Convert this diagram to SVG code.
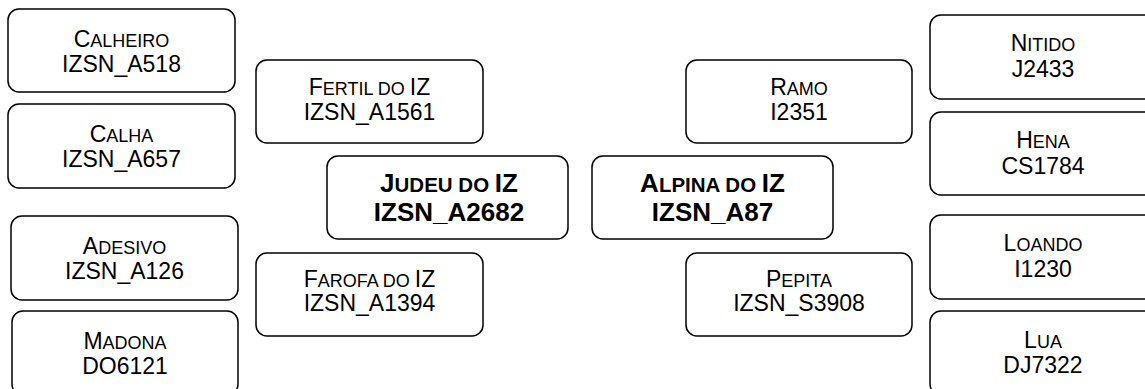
<svg xmlns="http://www.w3.org/2000/svg" width="1145" height="389" viewBox="0 0 1145 389">
<style>
.box{fill:#fff;stroke:#000;stroke-width:1.5}
text{font-family:"Liberation Sans",Arial,sans-serif;font-size:23px;fill:#000;text-anchor:middle}
.sc{font-size:18px}
.b{font-weight:bold;font-size:26px}
.b .sc{font-size:20.5px}
</style>
<rect width="1145" height="389" fill="#fff"/>
<g id="connectors"></g>
<g id="calheiro"><rect class="box" x="8" y="9" width="227" height="83" rx="11"/><text x="121.5" y="46.5">C<tspan class="sc">ALHEIRO</tspan></text><text x="121.5" y="71.5">IZSN_A518</text></g>
<g id="calha"><rect class="box" x="8" y="104" width="227" height="84" rx="11"/><text x="121.5" y="141.5">C<tspan class="sc">ALHA</tspan></text><text x="121.5" y="166.5">IZSN_A657</text></g>
<g id="adesivo"><rect class="box" x="11" y="216" width="227" height="84" rx="11"/><text x="124.5" y="253.5">A<tspan class="sc">DESIVO</tspan></text><text x="124.5" y="278.5">IZSN_A126</text></g>
<g id="madona"><rect class="box" x="12" y="311" width="226" height="84" rx="11"/><text x="125" y="348.5">M<tspan class="sc">ADONA</tspan></text><text x="125" y="373.5">DO6121</text></g>
<g id="fertil"><rect class="box" x="256" y="60" width="227" height="83" rx="11"/><text x="369.5" y="95">F<tspan class="sc">ERTIL DO </tspan>IZ</text><text x="369.5" y="120">IZSN_A1561</text></g>
<g id="judeu"><rect class="box" x="327" y="156" width="241" height="83" rx="11"/><text class="b" x="449" y="191.5">J<tspan class="sc">UDEU DO </tspan>IZ</text><text class="b" x="449" y="220.5">IZSN_A2682</text></g>
<g id="farofa"><rect class="box" x="256" y="253" width="227" height="83" rx="11"/><text x="369.5" y="287">F<tspan class="sc">AROFA DO </tspan>IZ</text><text x="369.5" y="311">IZSN_A1394</text></g>
<g id="ramo"><rect class="box" x="686" y="60" width="226" height="83" rx="11"/><text x="799" y="95">R<tspan class="sc">AMO</tspan></text><text x="799" y="120">I2351</text></g>
<g id="alpina"><rect class="box" x="592" y="156" width="241" height="83" rx="11"/><text class="b" x="712.5" y="191.5">A<tspan class="sc">LPINA DO </tspan>IZ</text><text class="b" x="712.5" y="220.5">IZSN_A87</text></g>
<g id="pepita"><rect class="box" x="686" y="253" width="226" height="83" rx="11"/><text x="799" y="287">P<tspan class="sc">EPITA</tspan></text><text x="799" y="311">IZSN_S3908</text></g>
<g id="nitido"><rect class="box" x="930" y="15" width="227" height="84" rx="11"/><text x="1043" y="50.5">N<tspan class="sc">ITIDO</tspan></text><text x="1043" y="76.5">J2433</text></g>
<g id="hena"><rect class="box" x="930" y="112" width="227" height="83" rx="11"/><text x="1043" y="148">H<tspan class="sc">ENA</tspan></text><text x="1043" y="173.5">CS1784</text></g>
<g id="loando"><rect class="box" x="930" y="215" width="227" height="84" rx="11"/><text x="1043" y="251">L<tspan class="sc">OANDO</tspan></text><text x="1043" y="276.5">I1230</text></g>
<g id="lua"><rect class="box" x="930" y="311" width="227" height="84" rx="11"/><text x="1043" y="347.5">L<tspan class="sc">UA</tspan></text><text x="1043" y="373">DJ7322</text></g>
</svg>
